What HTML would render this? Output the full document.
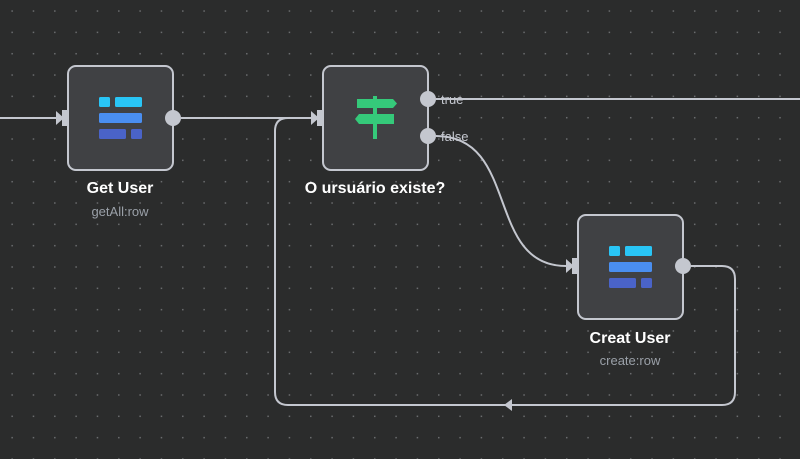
<!DOCTYPE html>
<html><head><meta charset="utf-8"><style>
html,body{margin:0;padding:0;}
body{width:800px;height:459px;background:#2b2c2c;overflow:hidden;position:relative;font-family:"Liberation Sans","DejaVu Sans",sans-serif;}
svg{position:absolute;left:0;top:0;}
.t{position:absolute;text-align:center;width:200px;}
.n{color:#fff;font-weight:bold;font-size:16px;}
.s{color:#9aa0a8;font-size:13px;}
</style></head><body>
<svg width="800" height="459" viewBox="0 0 800 459">
<defs>
<pattern id="g" x="11.4" y="10.3" width="21.33" height="21.33" patternUnits="userSpaceOnUse">
<rect x="0" y="0" width="1.5" height="1.5" fill="#6a6c6e"/>
</pattern>
</defs>
<rect width="800" height="459" fill="url(#g)"/>
<g fill="none" stroke="#c4c7cf" stroke-width="2">
<path d="M0,118 H56"/>
<path d="M181,118 H311"/>
<path d="M436,99 H800"/>
<path d="M436,136 C 520,136 485,266 566,266"/>
<path d="M691,266 H722 Q735,266 735,279 V392 Q735,405 722,405 H288 Q275,405 275,392 V131 Q275,118 288,118 H311"/>
</g>
<g fill="#c4c7cf">
<path d="M56,111 L64,118 L56,125 Z"/>
<path d="M311,111 L319,118 L311,125 Z"/>
<path d="M566,259 L574,266 L566,273 Z"/>
<path d="M504,405 L512,399 L512,411 Z"/>
<rect x="62" y="110" width="6" height="16"/>
<rect x="317" y="110" width="6" height="16"/>
<rect x="572" y="258" width="6" height="16"/>
</g>
<g fill="#404144" stroke="#c4c7cf" stroke-width="2">
<rect x="68" y="66" width="105" height="104" rx="8"/>
<rect x="323" y="66" width="105" height="104" rx="8"/>
<rect x="578" y="215" width="105" height="104" rx="8"/>
</g>
<g fill="#c4c7cf">
<circle cx="173" cy="118" r="8"/>
<circle cx="428" cy="99" r="8"/>
<circle cx="428" cy="136" r="8"/>
<circle cx="683" cy="266" r="8"/>
</g>
<g>
<rect x="99" y="97" width="11" height="10" rx="1.5" fill="#29c5f6"/>
<rect x="115" y="97" width="27" height="10" rx="1.5" fill="#29c5f6"/>
<rect x="99" y="113" width="43" height="10" rx="1.5" fill="#4a8ef0"/>
<rect x="99" y="129" width="27" height="10" rx="1.5" fill="#4a63c8"/>
<rect x="131" y="129" width="11" height="10" rx="1.5" fill="#4a63c8"/>
</g>
<g transform="translate(510,149)">
<rect x="99" y="97" width="11" height="10" rx="1.5" fill="#29c5f6"/>
<rect x="115" y="97" width="27" height="10" rx="1.5" fill="#29c5f6"/>
<rect x="99" y="113" width="43" height="10" rx="1.5" fill="#4a8ef0"/>
<rect x="99" y="129" width="27" height="10" rx="1.5" fill="#4a63c8"/>
<rect x="131" y="129" width="11" height="10" rx="1.5" fill="#4a63c8"/>
</g>
<g fill="#35c97a">
<rect x="373" y="96" width="4" height="43"/>
<path d="M357,99 H393 L397,103.5 L393,108 H357 Z"/>
<path d="M359,114 H394 V124 H359 L355,119 Z"/>
</g>
<g font-size="13" fill="#c4c7cf" font-family="Liberation Sans, sans-serif">
<text x="441" y="104">true</text>
<text x="441" y="141">false</text>
</g>
</svg>
<div class="t n" style="left:20px;top:180px;">Get User</div>
<div class="t s" style="left:20px;top:204px;">getAll:row</div>
<div class="t n" style="left:275px;top:180px;">O ursuário existe?</div>
<div class="t n" style="left:530px;top:330px;">Creat User</div>
<div class="t s" style="left:530px;top:353px;">create:row</div>
</body></html>
